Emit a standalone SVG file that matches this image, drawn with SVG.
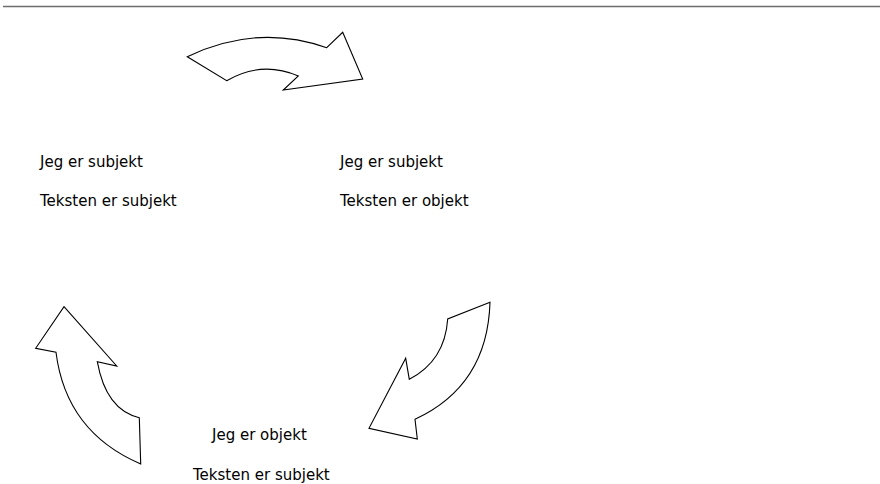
<svg xmlns="http://www.w3.org/2000/svg" width="880" height="484" viewBox="0 0 880 484">
<style>
.arrow{fill:#fff;stroke:#000;stroke-width:1.1;stroke-linejoin:miter}
.lbl{font-family:"DejaVu Sans",Verdana,sans-serif;font-size:15px;fill:#000}
</style>
<rect width="880" height="484" fill="#fff"/>
<line x1="3" y1="6.5" x2="880" y2="6.5" stroke="#6e6e6e" stroke-width="1.5"/>
<g id="connectors">
<path id="arrow-top" class="arrow" d="M187.3,56.7 Q257,23.2 326.7,47.7 L342.7,32.3 L362.7,79 L283.3,90 L298.3,76 Q261.5,60.3 226.7,80.7 Z"/>
<path id="arrow-right" class="arrow" d="M490,302.3 L447.7,319 Q444.9,360.8 409.3,379.3 L405.7,358.3 L369,428.3 L417.3,439 L415,419.3 Q487.5,385.8 490,302.3 Z"/>
<path id="arrow-left" class="arrow" d="M64,306.7 L116.7,366 L97.3,361.7 Q106,410 139.3,417.7 L140.7,464 Q66,432 56,352.3 L35.7,348.3 Z"/>
</g>
<g id="node-1">
<text class="lbl" x="40" y="166.5">Jeg er subjekt</text>
<text class="lbl" x="40" y="205.5">Teksten er subjekt</text>
</g>
<g id="node-2">
<text class="lbl" x="340" y="166.5">Jeg er subjekt</text>
<text class="lbl" x="340" y="205.5">Teksten er objekt</text>
</g>
<g id="node-3">
<text class="lbl" x="212" y="440">Jeg er objekt</text>
<text class="lbl" x="193" y="480">Teksten er subjekt</text>
</g>
</svg>
